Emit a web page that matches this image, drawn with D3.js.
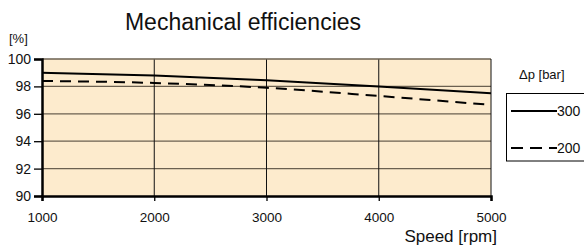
<!DOCTYPE html>
<html><head><meta charset="utf-8">
<script src="https://cdn.jsdelivr.net/npm/d3@7"></script>
<style>body{margin:0;background:#fff}svg{display:block;font-family:"Liberation Sans",Arial,sans-serif}</style>
</head><body><svg id="c" width="584" height="248"></svg>
<script>
const speeds = [1000, 2000, 3000, 4000, 5000];
const eff300 = [99.0, 98.8, 98.45, 98.0, 97.5];
const eff200 = [98.4, 98.25, 97.9, 97.3, 96.65];
const xTicks = [1000, 2000, 3000, 4000, 5000];
const yTicks = [90, 92, 94, 96, 98, 100];
const seriesNames = ["300", "200"];

const svg = d3.select("#c");
const L = 42, R = 491, T = 59, B = 196;
const x = d3.scaleLinear().domain([1000, 5000]).range([L, R]);
const y = d3.scaleLinear().domain([90, 100]).range([B, T]);

svg.append("rect").attr("x", L).attr("y", T).attr("width", R - L).attr("height", B - T).attr("fill", "#fdebcd");

// horizontal grid
svg.append("g").selectAll("line").data(yTicks.filter(d => d > 90 && d < 100)).join("line")
  .attr("x1", L).attr("x2", R).attr("y1", d => y(d)).attr("y2", d => y(d))
  .attr("stroke", "#6b6050").attr("stroke-width", 1.3);
// vertical grid
svg.append("g").selectAll("line").data(xTicks.filter(d => d > 1000 && d < 5000)).join("line")
  .attr("x1", d => x(d)).attr("x2", d => x(d)).attr("y1", T).attr("y2", B)
  .attr("stroke", "#111").attr("stroke-width", 1);
// top & right border
svg.append("line").attr("x1", L).attr("x2", R).attr("y1", T).attr("y2", T).attr("stroke", "#6b6050").attr("stroke-width", 1.3);
svg.append("line").attr("x1", R).attr("x2", R).attr("y1", T).attr("y2", B).attr("stroke", "#111").attr("stroke-width", 1);

// axes
const yAxis = d3.axisLeft(y).tickValues(yTicks).tickSize(8).tickPadding(3);
const gy = svg.append("g").attr("transform", `translate(${L},0)`).call(yAxis);
gy.select(".domain").attr("stroke", "#000").attr("stroke-width", 2.5);
gy.selectAll(".tick line").attr("stroke", "#000").attr("stroke-width", 1.3);
gy.selectAll("text").attr("font-size", 14).attr("fill", "#111").attr("font-family", "Liberation Sans, Arial, sans-serif");

const xAxis = d3.axisBottom(x).tickValues(xTicks).tickSize(5).tickPadding(11).tickFormat(d3.format("d"));
const gx = svg.append("g").attr("transform", `translate(0,${B})`).call(xAxis);
gx.select(".domain").attr("stroke", "#000").attr("stroke-width", 2.5);
gx.selectAll(".tick line").attr("stroke", "#000").attr("stroke-width", 1.3);
gx.selectAll("text").attr("font-size", 13.5).attr("fill", "#111").attr("font-family", "Liberation Sans, Arial, sans-serif");

// lines
const line = d3.line().x((d, i) => x(speeds[i])).y(d => y(d)).curve(d3.curveMonotoneX);
svg.append("path").datum(eff300).attr("d", line).attr("fill", "none").attr("stroke", "#000").attr("stroke-width", 2);
svg.append("path").datum(eff200).attr("d", line).attr("fill", "none").attr("stroke", "#000").attr("stroke-width", 2).attr("stroke-dasharray", "11,7");

// texts
svg.append("text").attr("x", 243).attr("y", 30).attr("text-anchor", "middle").attr("font-size", 23).attr("fill", "#111").text("Mechanical efficiencies");
svg.append("text").attr("x", 9).attr("y", 43).attr("font-size", 13).attr("fill", "#111").text("[%]");
svg.append("text").attr("x", 497).attr("y", 242).attr("text-anchor", "end").attr("font-size", 17).attr("fill", "#111").text("Speed [rpm]");

// legend
svg.append("text").attr("x", 519).attr("y", 79).attr("font-size", 13).attr("fill", "#111").text("\u0394p [bar]");
svg.append("rect").attr("x", 506.5).attr("y", 93.5).attr("width", 90).attr("height", 67.5).attr("fill", "#fff").attr("stroke", "#000").attr("stroke-width", 1);
const ly = [111, 148];
seriesNames.forEach((n, i) => {
  svg.append("line").attr("x1", 511).attr("x2", 557).attr("y1", ly[i]).attr("y2", ly[i])
    .attr("stroke", "#000").attr("stroke-width", 2).attr("stroke-dasharray", i ? "12,7" : null);
  svg.append("text").attr("x", 557).attr("y", ly[i] + 5).attr("font-size", 14).attr("fill", "#111").text(n);
});
</script></body></html>
